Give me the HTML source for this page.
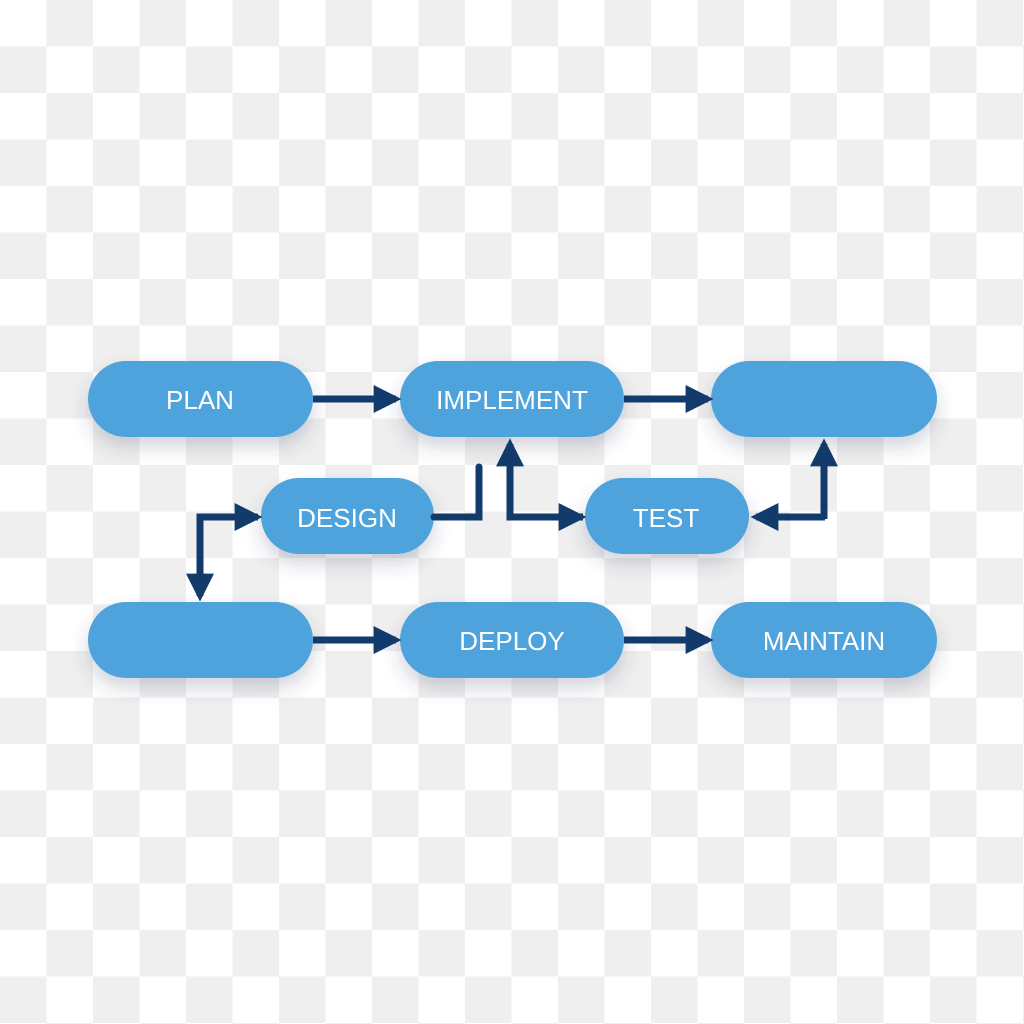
<!DOCTYPE html>
<html><head><meta charset="utf-8"><style>
html,body{margin:0;padding:0;width:1024px;height:1024px;overflow:hidden;background:#fff}
</style></head><body>
<svg width="1024" height="1024" viewBox="0 0 1024 1024" xmlns="http://www.w3.org/2000/svg">
<defs>
<pattern id="chk" width="93" height="93" patternUnits="userSpaceOnUse">
<rect width="93" height="93" fill="#ffffff"/>
<rect x="46.5" y="0" width="46.5" height="46.5" fill="#efefef"/>
<rect x="0" y="46.5" width="46.5" height="46.5" fill="#efefef"/>
</pattern>
<filter id="sh" x="-20%" y="-40%" width="140%" height="200%">
<feDropShadow dx="0" dy="10" stdDeviation="9" flood-color="#334466" flood-opacity="0.22"/>
</filter>
<marker id="ah" markerWidth="4" markerHeight="4" refX="3.2" refY="2" orient="auto" markerUnits="strokeWidth">
<path d="M0,0 L4,2 L0,4 z" fill="#123a6b"/>
</marker>
</defs>
<rect width="1024" height="1024" fill="url(#chk)"/>
<g fill="#4fa3dc" filter="url(#sh)">
<rect x="88" y="361" width="225" height="76" rx="38"/>
<rect x="400" y="361" width="224" height="76" rx="38"/>
<rect x="711" y="361" width="226" height="76" rx="38"/>
<rect x="261" y="478" width="173" height="76" rx="38"/>
<rect x="585" y="478" width="164" height="76" rx="38"/>
<rect x="88" y="602" width="225" height="76" rx="38"/>
<rect x="400" y="602" width="224" height="76" rx="38"/>
<rect x="711" y="602" width="226" height="76" rx="38"/>
</g>
<g stroke="#123a6b" stroke-width="7" fill="none" stroke-linejoin="miter">
<path d="M313 399 H396" marker-end="url(#ah)"/>
<path d="M624 399 H708" marker-end="url(#ah)"/>
<path d="M313 640 H396" marker-end="url(#ah)"/>
<path d="M624 640 H708" marker-end="url(#ah)"/>
<path d="M434 517 H479 V467" stroke-linecap="round"/>
<path d="M583 517 H510 V444" marker-end="url(#ah)"/>
<path d="M511 517 H581" marker-end="url(#ah)"/>
<path d="M825 517 H756" marker-end="url(#ah)"/>
<path d="M824 519 V444" marker-end="url(#ah)"/>
<path d="M258 517 H200 V596" marker-end="url(#ah)"/>
<path d="M199 517 H257" marker-end="url(#ah)"/>
</g>
<g fill="#ffffff" font-family="Liberation Sans, sans-serif" font-size="26" text-anchor="middle">
<text x="200" y="409">PLAN</text>
<text x="512" y="409">IMPLEMENT</text>
<text x="347" y="527">DESIGN</text>
<text x="666" y="527">TEST</text>
<text x="512" y="650">DEPLOY</text>
<text x="824" y="650">MAINTAIN</text>
</g>
</svg>
</body></html>
